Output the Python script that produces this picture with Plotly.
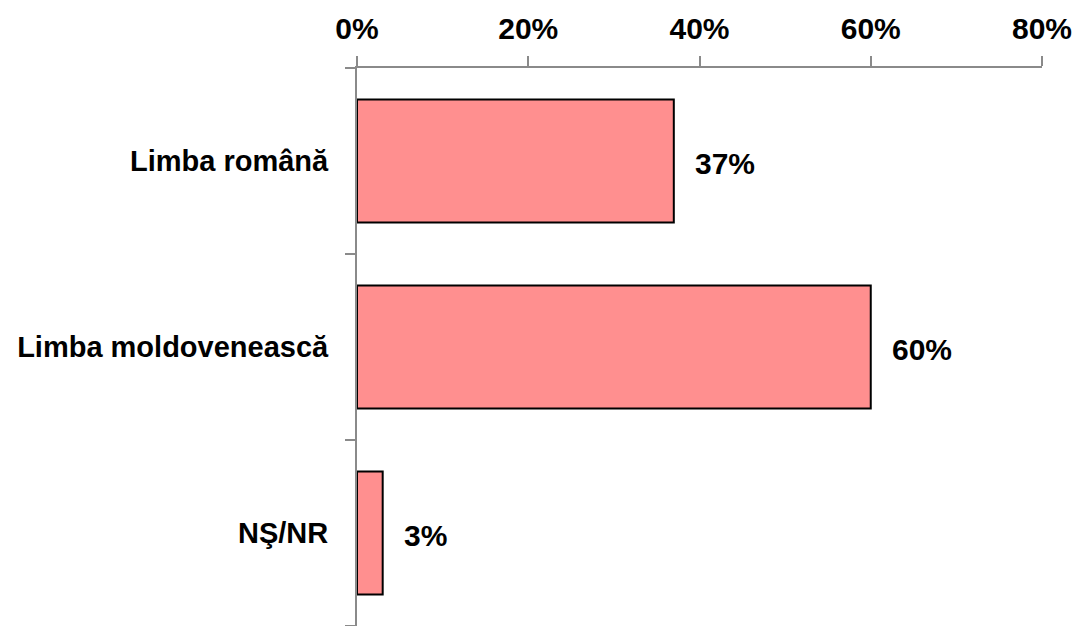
import plotly.graph_objects as go

categories = ["Limba română", "Limba moldovenească", "NŞ/NR"]
values = [37, 60, 3]
x_ticks = [0, 20, 40, 60, 80]
x_tick_labels = ["0%", "20%", "40%", "60%", "80%"]
value_labels = [f"{v}%" for v in values]

FONT = "Liberation Sans Narrow, Arial Narrow, Liberation Sans, Arial, sans-serif"
AXIS_GRAY = "#8a8a8a"
FS = 30

fig = go.Figure()
fig.add_trace(go.Bar(
    x=values, y=categories, orientation="h",
    marker=dict(color="#FF8F8F", line=dict(color="black", width=2)),
    hoverinfo="skip",
))

for v, c, t in zip(values, categories, value_labels):
    fig.add_annotation(x=v, y=c, text=f"<b>{t}</b>", showarrow=False,
                       xanchor="left", yanchor="middle", xshift=19, yshift=-2,
                       font=dict(family=FONT, size=FS, color="black"))

fig.update_layout(
    width=1075, height=618,
    margin=dict(l=349, r=41, t=60, b=0),
    plot_bgcolor="white", paper_bgcolor="white",
    bargap=0.34, showlegend=False,
    font=dict(family=FONT, size=FS, color="black"),
)
fig.update_xaxes(
    side="top", range=[0, 80], tickvals=x_ticks,
    ticktext=[f"<b>{t}</b>" for t in x_tick_labels],
    showgrid=False, zeroline=False, automargin=False,
    showline=True, linecolor=AXIS_GRAY, linewidth=2,
    ticks="outside", ticklen=10, tickwidth=2, tickcolor=AXIS_GRAY,
    ticklabelstandoff=5,
)
fig.update_yaxes(
    autorange="reversed", tickson="boundaries",
    tickvals=categories, ticktext=[f"<b>{c}</b>" for c in categories],
    tickfont=dict(family=FONT, size=29, color="black"),
    showgrid=False, zeroline=False, automargin=False,
    showline=True, linecolor=AXIS_GRAY, linewidth=2,
    ticks="outside", ticklen=10, tickwidth=2, tickcolor=AXIS_GRAY,
    ticklabelstandoff=21,
)

fig.write_html("out.html")
